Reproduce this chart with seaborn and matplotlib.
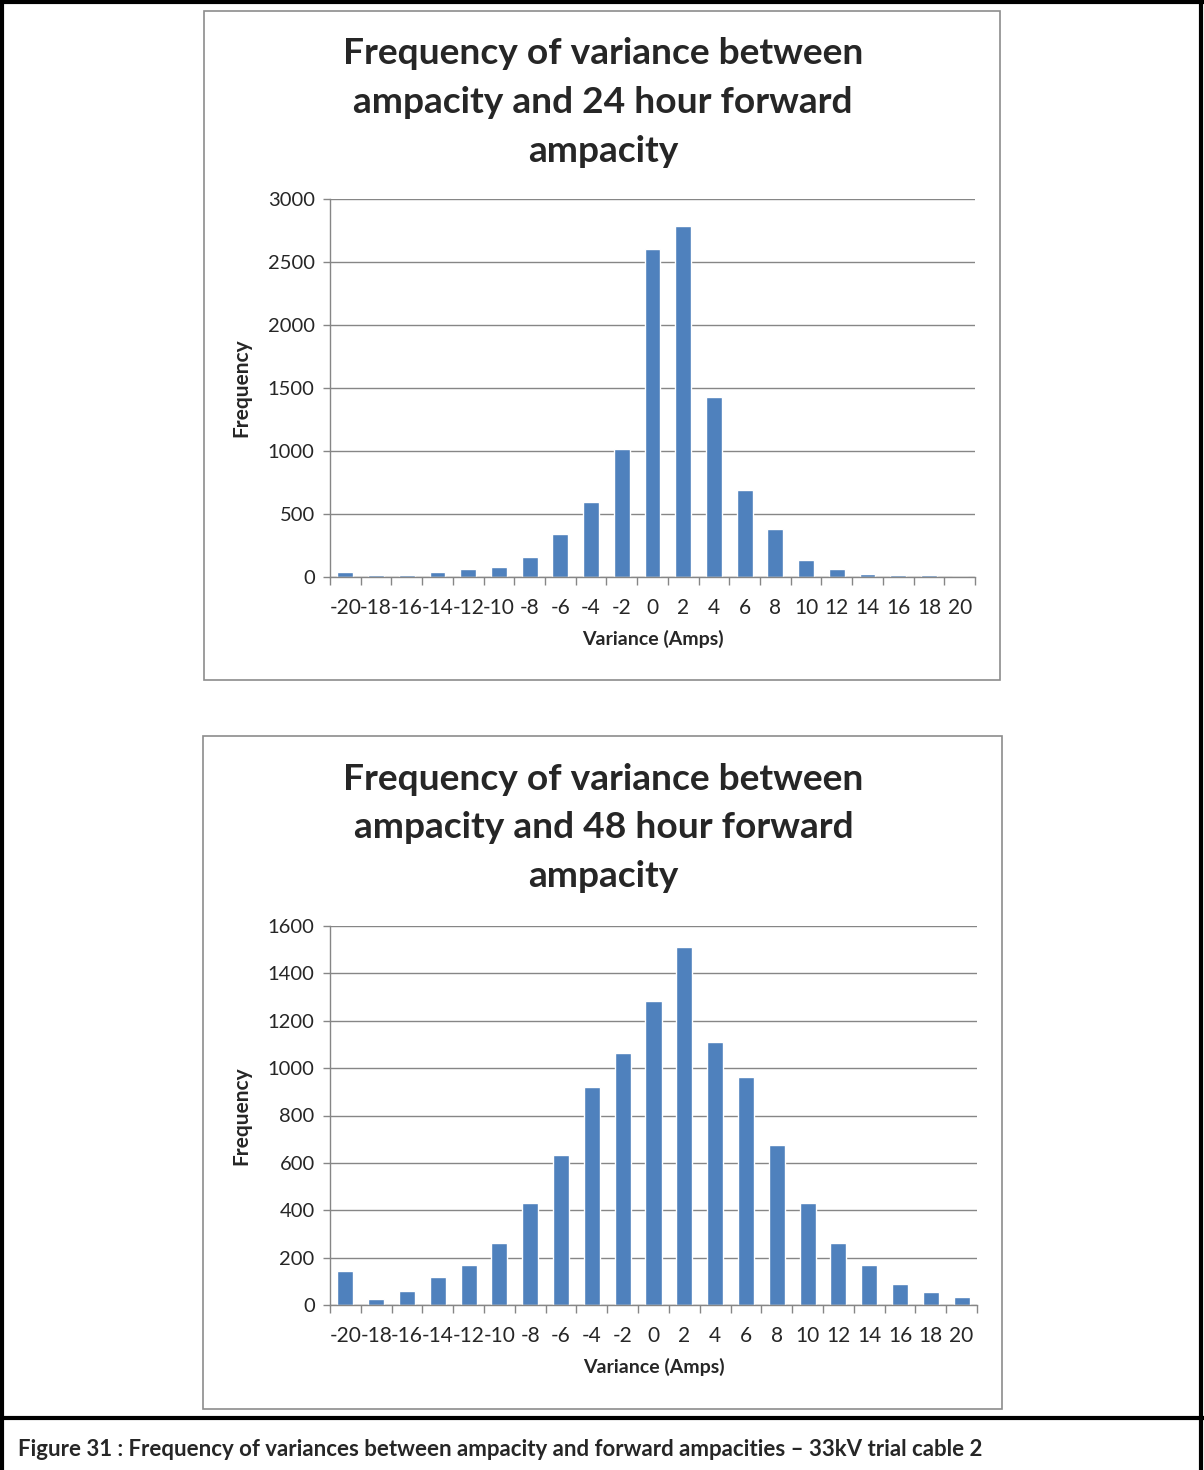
import matplotlib
matplotlib.use("Agg")
import matplotlib.pyplot as plt
import seaborn as sns
import pandas as pd
import numpy as np
from matplotlib.patches import Rectangle
from matplotlib.lines import Line2D

categories = [-20, -18, -16, -14, -12, -10, -8, -6, -4, -2, 0, 2, 4, 6, 8, 10, 12, 14, 16, 18, 20]
freq_24h = [40, 15, 15, 40, 65, 80, 160, 340, 595, 1015, 2600, 2785, 1430, 690, 380, 135, 65, 25, 15, 15, 0]
freq_48h = [143, 25, 60, 118, 170, 262, 430, 633, 920, 1063, 1283, 1510, 1110, 962, 675, 430, 262, 168, 88, 55, 32]
title_24 = ["Frequency of variance between", "ampacity and 24 hour forward", "ampacity"]
title_48 = ["Frequency of variance between", "ampacity and 48 hour forward", "ampacity"]
caption = "Figure 31 : Frequency of variances between ampacity and forward ampacities \u2013 33kV trial cable 2"

sns.set_theme(style="white")
plt.rcParams['font.family'] = ['Lato', 'DejaVu Sans']

W, H = 1204, 1470
fig = plt.figure(figsize=(W / 100, H / 100), dpi=100)

def fx(px):
    return px / W

def fy(py):
    return 1 - py / H

BAR = "#4F81BD"
GRID = "#868686"

def draw_chart(values, title_lines, box, axpx, ymax, ystep):
    x0, y0, x1, y1 = box
    fig.patches.append(Rectangle((fx(x0), fy(y1)), fx(x1) - fx(x0), fy(y0) - fy(y1),
                                 transform=fig.transFigure, fill=False,
                                 edgecolor="#8c8c8c", linewidth=1.2))
    ax0, ay0, ax1, ay1 = axpx
    ax = fig.add_axes([fx(ax0), fy(ay1), fx(ax1) - fx(ax0), fy(ay0) - fy(ay1)])
    df = pd.DataFrame({"Variance": [str(c) for c in categories], "Frequency": values})
    sns.barplot(data=df, x="Variance", y="Frequency", order=[str(c) for c in categories],
                color=BAR, saturation=1, width=0.52, ax=ax)
    ax.set_xlim(-0.5, len(categories) - 0.5)
    ax.set_ylim(0, ymax)
    ax.set_yticks(np.arange(0, ymax + 1, ystep))
    ax.yaxis.grid(True, color=GRID, linewidth=1.0)
    ax.set_axisbelow(True)
    for s in ["top", "right"]:
        ax.spines[s].set_visible(False)
    ax.spines["left"].set_color(GRID)
    ax.spines["bottom"].set_color(GRID)
    ax.spines["left"].set_linewidth(1.0)
    ax.spines["bottom"].set_linewidth(1.0)
    ax.tick_params(axis="y", length=5, color=GRID, width=1, labelsize=14.5, pad=6, left=True)
    ax.tick_params(axis="x", which="major", length=0, labelsize=15, pad=15)
    ax.set_xticks(np.arange(-0.5, len(categories), 1.0), minor=True)
    ax.tick_params(axis="x", which="minor", length=6, color=GRID, width=1, bottom=True)
    ax.set_xlabel("Variance (Amps)", fontsize=14, fontweight="bold", labelpad=9)
    ax.set_ylabel("Frequency", fontsize=15, fontweight="bold", labelpad=12)
    ax.patch.set_alpha(0)
    cx = (x0 + x1) / 2 + 1
    for i, line in enumerate(title_lines):
        fig.text(fx(cx), fy(y0 + 43 + 48.5 * i), line, ha="center", va="center",
                 fontsize=26.7, fontweight="bold")
    return ax

draw_chart(freq_24h, title_24, (204, 11, 1000, 680), (330, 199, 975, 577), 3000, 500)
draw_chart(freq_48h, title_48, (203, 736, 1002, 1409), (330, 926, 977, 1305), 1600, 200)

# outer frame
lw = 3
fig.lines.append(Line2D([fx(2), fx(2)], [fy(0), fy(H)], transform=fig.transFigure, color="black", lw=lw))
fig.lines.append(Line2D([fx(1201), fx(1201)], [fy(0), fy(H)], transform=fig.transFigure, color="black", lw=lw))
fig.lines.append(Line2D([fx(0), fx(W)], [fy(2), fy(2)], transform=fig.transFigure, color="black", lw=lw))
fig.lines.append(Line2D([fx(0), fx(W)], [fy(1418), fy(1418)], transform=fig.transFigure, color="black", lw=lw))

fig.text(fx(18), fy(1450), caption, ha="left", va="center", fontsize=16, fontweight="bold")

fig.savefig("out.png", dpi=100, facecolor="white")
